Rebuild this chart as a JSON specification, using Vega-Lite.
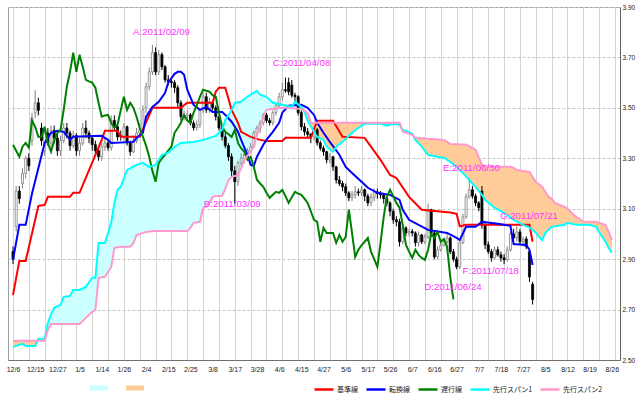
{
"$schema":"https://vega.github.io/schema/vega-lite/v6.json",
"width":612,"height":353,
"autosize":{"type":"none"},
"padding":{"left":8,"top":7,"right":24,"bottom":39},
"background":"#ffffff",
"config":{
 "view":{"stroke":"#a0a0a0","strokeWidth":1},
 "axis":{"labelFont":"Liberation Sans","labelColor":"#222222","ticks":false,"domainColor":"#707070"},
 "legend":{"orient":"none","direction":"horizontal","title":null,"padding":0,"labelFont":"Noto Sans CJK JP","labelFontSize":7,"labelColor":"#222222"}
},
"datasets":{
 "cloud":[
{"i":0,"s1":2.552,"s2":2.576},{"i":3,"s1":2.564,"s2":2.576},{"i":4,"s1":2.556,"s2":2.576},{"i":7,"s1":2.556,"s2":2.576},{"i":8,"s1":2.584,"s2":2.576},{"i":10,"s1":2.584,"s2":2.576},{"i":11,"s1":2.647,"s2":2.619},{"i":12,"s1":2.68,"s2":2.643},{"i":13,"s1":2.707,"s2":2.643},{"i":15,"s1":2.719,"s2":2.643},{"i":16,"s1":2.75,"s2":2.643},{"i":18,"s1":2.754,"s2":2.643},{"i":19,"s1":2.778,"s2":2.643},{"i":21,"s1":2.778,"s2":2.643},{"i":23,"s1":2.79,"s2":2.667},{"i":25,"s1":2.826,"s2":2.691},{"i":26,"s1":2.826,"s2":2.699},{"i":27,"s1":2.964,"s2":2.826},{"i":29,"s1":2.964,"s2":2.83},{"i":31,"s1":3.044,"s2":2.869},{"i":32,"s1":3.123,"s2":2.945},{"i":33,"s1":3.175,"s2":2.947},{"i":34,"s1":3.187,"s2":2.949},{"i":36,"s1":3.254,"s2":2.949},{"i":37,"s1":3.26,"s2":2.949},{"i":38,"s1":3.268,"s2":2.964},{"i":39,"s1":3.274,"s2":2.996},{"i":41,"s1":3.282,"s2":3.004},{"i":42,"s1":3.274,"s2":3.008},{"i":43,"s1":3.266,"s2":3.01},{"i":45,"s1":3.274,"s2":3.012},{"i":47,"s1":3.314,"s2":3.012},{"i":49,"s1":3.322,"s2":3.012},{"i":51,"s1":3.346,"s2":3.012},{"i":53,"s1":3.361,"s2":3.012},{"i":55,"s1":3.363,"s2":3.012},{"i":56,"s1":3.364,"s2":3.024},{"i":57,"s1":3.365,"s2":3.044},{"i":59,"s1":3.37,"s2":3.048},{"i":60,"s1":3.373,"s2":3.104},{"i":61,"s1":3.377,"s2":3.108},{"i":62,"s1":3.381,"s2":3.123},{"i":63,"s1":3.385,"s2":3.147},{"i":64,"s1":3.389,"s2":3.15},{"i":65,"s1":3.401,"s2":3.15},{"i":66,"s1":3.413,"s2":3.151},{"i":67,"s1":3.453,"s2":3.18},{"i":68,"s1":3.47,"s2":3.214},{"i":69,"s1":3.492,"s2":3.226},{"i":70,"s1":3.52,"s2":3.23},{"i":71,"s1":3.522,"s2":3.234},{"i":72,"s1":3.524,"s2":3.26},{"i":73,"s1":3.535,"s2":3.294},{"i":74,"s1":3.544,"s2":3.31},{"i":75,"s1":3.553,"s2":3.326},{"i":76,"s1":3.56,"s2":3.346},{"i":77,"s1":3.568,"s2":3.393},{"i":78,"s1":3.552,"s2":3.43},{"i":79,"s1":3.548,"s2":3.461},{"i":80,"s1":3.544,"s2":3.492},{"i":82,"s1":3.52,"s2":3.496},{"i":85,"s1":3.512,"s2":3.5},{"i":86,"s1":3.51,"s2":3.5},{"i":88,"s1":3.504,"s2":3.498},{"i":89,"s1":3.524,"s2":3.497},{"i":91,"s1":3.504,"s2":3.496},{"i":92,"s1":3.484,"s2":3.488},{"i":93,"s1":3.449,"s2":3.48},{"i":94,"s1":3.427,"s2":3.441},{"i":95,"s1":3.405,"s2":3.441},{"i":96,"s1":3.385,"s2":3.441},{"i":98,"s1":3.373,"s2":3.441},{"i":99,"s1":3.346,"s2":3.441},{"i":101,"s1":3.326,"s2":3.441},{"i":102,"s1":3.346,"s2":3.441},{"i":104,"s1":3.365,"s2":3.441},{"i":105,"s1":3.377,"s2":3.441},{"i":107,"s1":3.401,"s2":3.441},{"i":109,"s1":3.421,"s2":3.441},{"i":111,"s1":3.437,"s2":3.441},{"i":116,"s1":3.437,"s2":3.441},{"i":118,"s1":3.429,"s2":3.441},{"i":120,"s1":3.437,"s2":3.441},{"i":122,"s1":3.433,"s2":3.441},{"i":123,"s1":3.413,"s2":3.405},{"i":126,"s1":3.397,"s2":3.393},{"i":127,"s1":3.373,"s2":3.381},{"i":129,"s1":3.346,"s2":3.379},{"i":131,"s1":3.314,"s2":3.377},{"i":134,"s1":3.306,"s2":3.375},{"i":136,"s1":3.302,"s2":3.373},{"i":138,"s1":3.286,"s2":3.357},{"i":140,"s1":3.266,"s2":3.356},{"i":142,"s1":3.242,"s2":3.355},{"i":143,"s1":3.228,"s2":3.354},{"i":144,"s1":3.214,"s2":3.348},{"i":146,"s1":3.187,"s2":3.334},{"i":148,"s1":3.155,"s2":3.274},{"i":149,"s1":3.135,"s2":3.27},{"i":150,"s1":3.125,"s2":3.266},{"i":152,"s1":3.104,"s2":3.266},{"i":155,"s1":3.084,"s2":3.266},{"i":157,"s1":3.065,"s2":3.266},{"i":158,"s1":3.056,"s2":3.262},{"i":159,"s1":3.05,"s2":3.254},{"i":161,"s1":3.036,"s2":3.25},{"i":163,"s1":3.025,"s2":3.246},{"i":164,"s1":3.016,"s2":3.226},{"i":165,"s1":3.005,"s2":3.206},{"i":166,"s1":2.988,"s2":3.197},{"i":167,"s1":2.976,"s2":3.187},{"i":168,"s1":3.004,"s2":3.167},{"i":169,"s1":3.016,"s2":3.147},{"i":170,"s1":3.028,"s2":3.14},{"i":171,"s1":3.03,"s2":3.123},{"i":174,"s1":3.036,"s2":3.108},{"i":175,"s1":3.044,"s2":3.1},{"i":177,"s1":3.038,"s2":3.076},{"i":178,"s1":3.036,"s2":3.066},{"i":180,"s1":3.036,"s2":3.048},{"i":182,"s1":3.036,"s2":3.048},{"i":184,"s1":3.028,"s2":3.048},{"i":186,"s1":2.988,"s2":3.04},{"i":187,"s1":2.97,"s2":3.036},{"i":188,"s1":2.945,"s2":3.008},{"i":189,"s1":2.925,"s2":2.976}
 ],
 "kijun":[
{"i":0,"v":2.758},{"i":2,"v":2.893},{"i":4,"v":2.893},{"i":8,"v":3.111},{"i":10,"v":3.115},{"i":11,"v":3.147},{"i":18,"v":3.147},{"i":19,"v":3.163},{"i":21,"v":3.163},{"i":28,"v":3.373},{"i":29,"v":3.409},{"i":33,"v":3.409},{"i":34,"v":3.385},{"i":40,"v":3.385},{"i":44,"v":3.5},{"i":53,"v":3.5},{"i":55,"v":3.52},{"i":63,"v":3.52},{"i":64,"v":3.564},{"i":65,"v":3.58},{"i":67,"v":3.58},{"i":69,"v":3.492},{"i":71,"v":3.441},{"i":72,"v":3.405},{"i":75,"v":3.385},{"i":78,"v":3.373},{"i":80,"v":3.369},{"i":85,"v":3.369},{"i":86,"v":3.381},{"i":94,"v":3.381},{"i":96,"v":3.449},{"i":101,"v":3.449},{"i":104,"v":3.385},{"i":111,"v":3.381},{"i":116,"v":3.294},{"i":119,"v":3.234},{"i":121,"v":3.222},{"i":125,"v":3.147},{"i":129,"v":3.096},{"i":138,"v":3.085},{"i":140,"v":3.08},{"i":141,"v":3.03},{"i":143,"v":3.036},{"i":163,"v":3.036},{"i":164,"v":2.969}
 ],
 "tenkan":[
{"i":0,"v":2.897},{"i":2,"v":3.036},{"i":4,"v":3.036},{"i":6,"v":3.16},{"i":10,"v":3.361},{"i":12,"v":3.401},{"i":14,"v":3.409},{"i":16,"v":3.405},{"i":18,"v":3.373},{"i":19,"v":3.385},{"i":28,"v":3.389},{"i":30,"v":3.373},{"i":31,"v":3.361},{"i":38,"v":3.365},{"i":39,"v":3.381},{"i":41,"v":3.401},{"i":42,"v":3.465},{"i":44,"v":3.504},{"i":46,"v":3.524},{"i":48,"v":3.56},{"i":49,"v":3.6},{"i":51,"v":3.635},{"i":52,"v":3.643},{"i":53,"v":3.643},{"i":54,"v":3.631},{"i":55,"v":3.572},{"i":57,"v":3.512},{"i":59,"v":3.492},{"i":61,"v":3.504},{"i":63,"v":3.484},{"i":66,"v":3.484},{"i":67,"v":3.472},{"i":69,"v":3.445},{"i":71,"v":3.405},{"i":72,"v":3.373},{"i":74,"v":3.314},{"i":75,"v":3.274},{"i":76,"v":3.27},{"i":77,"v":3.306},{"i":79,"v":3.354},{"i":80,"v":3.373},{"i":82,"v":3.405},{"i":84,"v":3.441},{"i":85,"v":3.481},{"i":87,"v":3.508},{"i":91,"v":3.512},{"i":93,"v":3.5},{"i":95,"v":3.472},{"i":96,"v":3.441},{"i":98,"v":3.401},{"i":100,"v":3.365},{"i":103,"v":3.314},{"i":105,"v":3.266},{"i":107,"v":3.242},{"i":110,"v":3.207},{"i":112,"v":3.183},{"i":115,"v":3.163},{"i":119,"v":3.155},{"i":122,"v":3.135},{"i":123,"v":3.096},{"i":125,"v":3.056},{"i":128,"v":3.036},{"i":131,"v":3.016},{"i":137,"v":3.004},{"i":140,"v":2.984},{"i":141,"v":2.976},{"i":143,"v":3.028},{"i":146,"v":3.028},{"i":148,"v":3.048},{"i":153,"v":3.04},{"i":157,"v":3.032},{"i":158,"v":2.96},{"i":162,"v":2.956},{"i":163,"v":2.937},{"i":164,"v":2.877}
 ],
 "chikou":[
{"i":0,"v":3.354},{"i":1,"v":3.33},{"i":2,"v":3.306},{"i":3,"v":3.346},{"i":4,"v":3.361},{"i":5,"v":3.342},{"i":6,"v":3.45},{"i":7,"v":3.425},{"i":8,"v":3.385},{"i":9,"v":3.385},{"i":10,"v":3.425},{"i":11,"v":3.361},{"i":12,"v":3.326},{"i":13,"v":3.37},{"i":14,"v":3.4},{"i":15,"v":3.413},{"i":16,"v":3.492},{"i":17,"v":3.584},{"i":18,"v":3.643},{"i":19,"v":3.719},{"i":20,"v":3.643},{"i":21,"v":3.711},{"i":22,"v":3.663},{"i":23,"v":3.611},{"i":24,"v":3.605},{"i":25,"v":3.6},{"i":26,"v":3.58},{"i":27,"v":3.52},{"i":28,"v":3.465},{"i":29,"v":3.47},{"i":30,"v":3.472},{"i":31,"v":3.44},{"i":32,"v":3.421},{"i":33,"v":3.433},{"i":34,"v":3.49},{"i":35,"v":3.544},{"i":36,"v":3.492},{"i":37,"v":3.52},{"i":38,"v":3.5},{"i":39,"v":3.465},{"i":40,"v":3.42},{"i":41,"v":3.385},{"i":42,"v":3.35},{"i":43,"v":3.306},{"i":44,"v":3.25},{"i":45,"v":3.207},{"i":46,"v":3.282},{"i":47,"v":3.3},{"i":48,"v":3.314},{"i":49,"v":3.33},{"i":50,"v":3.346},{"i":51,"v":3.401},{"i":52,"v":3.42},{"i":53,"v":3.441},{"i":54,"v":3.472},{"i":55,"v":3.45},{"i":56,"v":3.441},{"i":57,"v":3.481},{"i":58,"v":3.51},{"i":59,"v":3.544},{"i":60,"v":3.572},{"i":61,"v":3.568},{"i":62,"v":3.564},{"i":63,"v":3.55},{"i":64,"v":3.544},{"i":65,"v":3.481},{"i":66,"v":3.425},{"i":67,"v":3.405},{"i":68,"v":3.395},{"i":69,"v":3.385},{"i":70,"v":3.413},{"i":71,"v":3.361},{"i":72,"v":3.34},{"i":73,"v":3.326},{"i":74,"v":3.294},{"i":75,"v":3.306},{"i":76,"v":3.266},{"i":77,"v":3.214},{"i":78,"v":3.2},{"i":79,"v":3.187},{"i":80,"v":3.163},{"i":81,"v":3.143},{"i":82,"v":3.155},{"i":83,"v":3.167},{"i":84,"v":3.163},{"i":85,"v":3.175},{"i":86,"v":3.15},{"i":87,"v":3.123},{"i":88,"v":3.145},{"i":89,"v":3.167},{"i":90,"v":3.16},{"i":91,"v":3.155},{"i":92,"v":3.14},{"i":93,"v":3.123},{"i":94,"v":3.09},{"i":95,"v":3.056},{"i":96,"v":3.048},{"i":97,"v":2.969},{"i":98,"v":3.024},{"i":99,"v":3.004},{"i":100,"v":3.004},{"i":101,"v":3.004},{"i":102,"v":2.965},{"i":103,"v":2.996},{"i":104,"v":2.969},{"i":105,"v":2.988},{"i":106,"v":3.096},{"i":107,"v":3.004},{"i":108,"v":2.909},{"i":109,"v":2.937},{"i":110,"v":2.955},{"i":111,"v":2.969},{"i":112,"v":2.984},{"i":113,"v":2.929},{"i":114,"v":2.9},{"i":115,"v":2.869},{"i":116,"v":2.965},{"i":117,"v":3.068},{"i":118,"v":3.147},{"i":119,"v":3.175},{"i":120,"v":3.15},{"i":121,"v":3.123},{"i":122,"v":3.104},{"i":123,"v":3.036},{"i":124,"v":2.957},{"i":125,"v":2.93},{"i":126,"v":2.905},{"i":127,"v":2.937},{"i":128,"v":2.917},{"i":129,"v":2.905},{"i":130,"v":2.897},{"i":131,"v":2.937},{"i":132,"v":3.0},{"i":133,"v":2.984},{"i":134,"v":3.008},{"i":135,"v":2.969},{"i":136,"v":2.98},{"i":137,"v":2.949},{"i":138,"v":2.83},{"i":139,"v":2.74}
 ],
 "candles":[
{"i":0,"o":2.93,"h":2.95,"l":2.88,"c":2.9},{"i":1,"o":3.03,"h":3.19,"l":3.01,"c":3.17},{"i":2,"o":3.17,"h":3.19,"l":3.12,"c":3.14},{"i":3,"o":3.2,"h":3.26,"l":3.18,"c":3.24},{"i":4,"o":3.24,"h":3.31,"l":3.22,"c":3.3},{"i":5,"o":3.3,"h":3.32,"l":3.25,"c":3.27},{"i":6,"o":3.37,"h":3.48,"l":3.35,"c":3.46},{"i":7,"o":3.48,"h":3.57,"l":3.46,"c":3.52},{"i":8,"o":3.52,"h":3.54,"l":3.47,"c":3.49},{"i":9,"o":3.42,"h":3.44,"l":3.35,"c":3.37},{"i":10,"o":3.33,"h":3.42,"l":3.31,"c":3.4},{"i":11,"o":3.4,"h":3.42,"l":3.35,"c":3.36},{"i":12,"o":3.36,"h":3.43,"l":3.34,"c":3.41},{"i":13,"o":3.41,"h":3.43,"l":3.36,"c":3.38},{"i":14,"o":3.38,"h":3.4,"l":3.31,"c":3.33},{"i":15,"o":3.33,"h":3.39,"l":3.31,"c":3.37},{"i":16,"o":3.37,"h":3.44,"l":3.36,"c":3.42},{"i":17,"o":3.42,"h":3.44,"l":3.38,"c":3.4},{"i":18,"o":3.4,"h":3.41,"l":3.33,"c":3.35},{"i":19,"o":3.35,"h":3.41,"l":3.34,"c":3.39},{"i":20,"o":3.39,"h":3.4,"l":3.31,"c":3.33},{"i":21,"o":3.33,"h":3.38,"l":3.31,"c":3.36},{"i":22,"o":3.36,"h":3.44,"l":3.35,"c":3.42},{"i":23,"o":3.42,"h":3.45,"l":3.38,"c":3.4},{"i":24,"o":3.4,"h":3.41,"l":3.36,"c":3.38},
{"i":25,"o":3.38,"h":3.39,"l":3.33,"c":3.354},{"i":26,"o":3.354,"h":3.37,"l":3.31,"c":3.33},{"i":27,"o":3.33,"h":3.34,"l":3.29,"c":3.306},{"i":28,"o":3.306,"h":3.36,"l":3.29,"c":3.346},{"i":29,"o":3.346,"h":3.38,"l":3.33,"c":3.361},{"i":30,"o":3.361,"h":3.37,"l":3.33,"c":3.342},{"i":31,"o":3.342,"h":3.47,"l":3.33,"c":3.45},{"i":32,"o":3.45,"h":3.47,"l":3.41,"c":3.425},{"i":33,"o":3.425,"h":3.44,"l":3.37,"c":3.385},{"i":34,"o":3.39,"h":3.41,"l":3.37,"c":3.385},{"i":35,"o":3.385,"h":3.44,"l":3.37,"c":3.425},{"i":36,"o":3.425,"h":3.43,"l":3.35,"c":3.361},{"i":37,"o":3.361,"h":3.37,"l":3.31,"c":3.326},{"i":38,"o":3.326,"h":3.39,"l":3.32,"c":3.37},{"i":39,"o":3.37,"h":3.42,"l":3.36,"c":3.4},{"i":40,"o":3.4,"h":3.44,"l":3.39,"c":3.413},{"i":41,"o":3.413,"h":3.51,"l":3.4,"c":3.492},{"i":42,"o":3.5,"h":3.6,"l":3.48,"c":3.584},{"i":43,"o":3.584,"h":3.66,"l":3.57,"c":3.643},{"i":44,"o":3.643,"h":3.75,"l":3.63,"c":3.719},{"i":45,"o":3.719,"h":3.74,"l":3.63,"c":3.643},{"i":46,"o":3.643,"h":3.73,"l":3.63,"c":3.711},{"i":47,"o":3.711,"h":3.72,"l":3.65,"c":3.663},{"i":48,"o":3.663,"h":3.67,"l":3.6,"c":3.611},{"i":49,"o":3.611,"h":3.63,"l":3.59,"c":3.605},{"i":50,"o":3.605,"h":3.62,"l":3.58,"c":3.6},{"i":51,"o":3.6,"h":3.61,"l":3.56,"c":3.58},{"i":52,"o":3.58,"h":3.59,"l":3.5,"c":3.52},{"i":53,"o":3.52,"h":3.53,"l":3.45,"c":3.465},{"i":54,"o":3.465,"h":3.49,"l":3.45,"c":3.47},{"i":55,"o":3.47,"h":3.49,"l":3.45,"c":3.472},{"i":56,"o":3.472,"h":3.48,"l":3.43,"c":3.44},{"i":57,"o":3.44,"h":3.45,"l":3.41,"c":3.421},{"i":58,"o":3.421,"h":3.45,"l":3.41,"c":3.433},{"i":59,"o":3.433,"h":3.5,"l":3.42,"c":3.49},{"i":60,"o":3.49,"h":3.56,"l":3.48,"c":3.544},{"i":61,"o":3.544,"h":3.56,"l":3.48,"c":3.492},{"i":62,"o":3.492,"h":3.54,"l":3.48,"c":3.52},{"i":63,"o":3.52,"h":3.53,"l":3.49,"c":3.5},{"i":64,"o":3.5,"h":3.51,"l":3.45,"c":3.465},{"i":65,"o":3.465,"h":3.47,"l":3.41,"c":3.42},{"i":66,"o":3.42,"h":3.43,"l":3.37,"c":3.385},{"i":67,"o":3.385,"h":3.4,"l":3.34,"c":3.35},{"i":68,"o":3.35,"h":3.36,"l":3.29,"c":3.306},{"i":69,"o":3.306,"h":3.32,"l":3.23,"c":3.25},{"i":70,"o":3.25,"h":3.27,"l":3.12,"c":3.207},{"i":71,"o":3.207,"h":3.29,"l":3.19,"c":3.282},{"i":72,"o":3.282,"h":3.32,"l":3.27,"c":3.3},{"i":73,"o":3.3,"h":3.33,"l":3.28,"c":3.314},{"i":74,"o":3.314,"h":3.34,"l":3.3,"c":3.33},{"i":75,"o":3.33,"h":3.36,"l":3.32,"c":3.346},{"i":76,"o":3.346,"h":3.41,"l":3.34,"c":3.401},{"i":77,"o":3.401,"h":3.43,"l":3.39,"c":3.42},{"i":78,"o":3.42,"h":3.45,"l":3.4,"c":3.441},{"i":79,"o":3.441,"h":3.48,"l":3.43,"c":3.472},{"i":80,"o":3.472,"h":3.48,"l":3.44,"c":3.45},{"i":81,"o":3.45,"h":3.46,"l":3.43,"c":3.441},{"i":82,"o":3.441,"h":3.49,"l":3.43,"c":3.481},{"i":83,"o":3.481,"h":3.52,"l":3.47,"c":3.51},{"i":84,"o":3.51,"h":3.56,"l":3.5,"c":3.544},{"i":85,"o":3.544,"h":3.6,"l":3.53,"c":3.572},{"i":86,"o":3.572,"h":3.62,"l":3.56,"c":3.568},{"i":87,"o":3.6,"h":3.62,"l":3.55,"c":3.564},{"i":88,"o":3.59,"h":3.61,"l":3.54,"c":3.55},{"i":89,"o":3.55,"h":3.56,"l":3.52,"c":3.544},{"i":90,"o":3.544,"h":3.55,"l":3.47,"c":3.481},{"i":91,"o":3.481,"h":3.49,"l":3.41,"c":3.425},{"i":92,"o":3.425,"h":3.44,"l":3.39,"c":3.405},{"i":93,"o":3.405,"h":3.42,"l":3.38,"c":3.395},{"i":94,"o":3.395,"h":3.4,"l":3.36,"c":3.385},{"i":95,"o":3.385,"h":3.42,"l":3.37,"c":3.413},{"i":96,"o":3.413,"h":3.42,"l":3.35,"c":3.361},{"i":97,"o":3.361,"h":3.37,"l":3.33,"c":3.34},{"i":98,"o":3.34,"h":3.35,"l":3.31,"c":3.326},{"i":99,"o":3.326,"h":3.33,"l":3.28,"c":3.294},{"i":100,"o":3.294,"h":3.32,"l":3.28,"c":3.306},{"i":101,"o":3.306,"h":3.31,"l":3.25,"c":3.266},{"i":102,"o":3.266,"h":3.27,"l":3.2,"c":3.214},{"i":103,"o":3.214,"h":3.23,"l":3.19,"c":3.2},{"i":104,"o":3.2,"h":3.21,"l":3.17,"c":3.187},{"i":105,"o":3.187,"h":3.2,"l":3.15,"c":3.163},{"i":106,"o":3.163,"h":3.17,"l":3.13,"c":3.143},{"i":107,"o":3.143,"h":3.17,"l":3.13,"c":3.155},{"i":108,"o":3.155,"h":3.19,"l":3.14,"c":3.167},{"i":109,"o":3.167,"h":3.18,"l":3.15,"c":3.163},{"i":110,"o":3.163,"h":3.19,"l":3.15,"c":3.175},{"i":111,"o":3.175,"h":3.18,"l":3.13,"c":3.15},{"i":112,"o":3.15,"h":3.16,"l":3.11,"c":3.123},{"i":113,"o":3.123,"h":3.16,"l":3.11,"c":3.145},{"i":114,"o":3.145,"h":3.18,"l":3.13,"c":3.167},{"i":115,"o":3.167,"h":3.18,"l":3.14,"c":3.16},{"i":116,"o":3.16,"h":3.17,"l":3.14,"c":3.155},{"i":117,"o":3.155,"h":3.16,"l":3.12,"c":3.14},{"i":118,"o":3.14,"h":3.15,"l":3.11,"c":3.123},{"i":119,"o":3.123,"h":3.13,"l":3.07,"c":3.09},{"i":120,"o":3.09,"h":3.1,"l":3.04,"c":3.056},{"i":121,"o":3.056,"h":3.07,"l":3.03,"c":3.048},{"i":122,"o":3.048,"h":3.06,"l":2.95,"c":2.969},{"i":123,"o":2.969,"h":3.04,"l":2.96,"c":3.024},{"i":124,"o":3.024,"h":3.03,"l":2.99,"c":3.004},{"i":125,"o":3.004,"h":3.02,"l":2.99,"c":3.01},{"i":126,"o":3.01,"h":3.02,"l":2.99,"c":3.004},{"i":127,"o":3.004,"h":3.01,"l":2.95,"c":2.965},{"i":128,"o":2.965,"h":3.01,"l":2.95,"c":2.996},{"i":129,"o":2.996,"h":3.0,"l":2.96,"c":2.969},{"i":130,"o":2.969,"h":3.0,"l":2.96,"c":2.988},{"i":131,"o":2.988,"h":3.12,"l":2.98,"c":3.096},{"i":132,"o":3.096,"h":3.1,"l":2.99,"c":3.004},{"i":133,"o":3.004,"h":3.01,"l":2.9,"c":2.909},{"i":134,"o":2.909,"h":2.95,"l":2.9,"c":2.937},{"i":135,"o":2.937,"h":2.97,"l":2.93,"c":2.955},{"i":136,"o":2.955,"h":2.98,"l":2.95,"c":2.969},{"i":137,"o":2.969,"h":3.0,"l":2.96,"c":2.984},{"i":138,"o":2.984,"h":2.99,"l":2.92,"c":2.929},{"i":139,"o":2.929,"h":2.94,"l":2.89,"c":2.9},{"i":140,"o":2.9,"h":2.91,"l":2.86,"c":2.869},{"i":141,"o":2.869,"h":2.97,"l":2.86,"c":2.965},{"i":142,"o":2.965,"h":3.08,"l":2.96,"c":3.068},{"i":143,"o":3.068,"h":3.16,"l":3.06,"c":3.147},{"i":144,"o":3.147,"h":3.22,"l":3.14,"c":3.175},{"i":145,"o":3.175,"h":3.19,"l":3.14,"c":3.15},{"i":146,"o":3.15,"h":3.16,"l":3.11,"c":3.123},{"i":147,"o":3.123,"h":3.13,"l":3.09,"c":3.104},{"i":148,"o":3.17,"h":3.19,"l":3.02,"c":3.036},{"i":149,"o":3.036,"h":3.05,"l":2.94,"c":2.957},{"i":150,"o":2.957,"h":2.97,"l":2.92,"c":2.93},{"i":151,"o":2.93,"h":2.94,"l":2.89,"c":2.905},{"i":152,"o":2.905,"h":2.95,"l":2.9,"c":2.937},{"i":153,"o":2.937,"h":2.95,"l":2.91,"c":2.917},{"i":154,"o":2.917,"h":2.93,"l":2.89,"c":2.905},{"i":155,"o":2.905,"h":2.92,"l":2.88,"c":2.897},{"i":156,"o":2.897,"h":2.95,"l":2.89,"c":2.937},{"i":157,"o":2.937,"h":3.01,"l":2.93,"c":3.0},{"i":158,"o":3.0,"h":3.02,"l":2.97,"c":2.984},{"i":159,"o":2.984,"h":3.03,"l":2.97,"c":3.008},{"i":160,"o":3.008,"h":3.02,"l":2.96,"c":2.969},{"i":161,"o":2.969,"h":2.99,"l":2.95,"c":2.98},{"i":162,"o":2.98,"h":2.99,"l":2.94,"c":2.949},{"i":163,"o":2.93,"h":2.94,"l":2.81,"c":2.83},{"i":164,"o":2.8,"h":2.81,"l":2.72,"c":2.74}
 ],
 "notes":[
{"i":37.9,"v":3.8,"t":"A:2011/02/09"},{"i":82,"v":3.676,"t":"C:2011/04/08"},{"i":60.2,"v":3.117,"t":"B:2011/03/09"},{"i":129.8,"v":2.788,"t":"D:2011/06/24"},{"i":135.7,"v":3.262,"t":"E:2011/06/30"},{"i":141.9,"v":2.854,"t":"F:2011/07/18"},{"i":153.7,"v":3.072,"t":"G:2011/07/21"}
 ]
},
"encoding":{
 "x":{"field":"i","type":"quantitative","scale":{"domain":[0,190],"nice":false,"zero":false},
  "axis":{"title":null,"tickCount":190,"labelFontSize":7,"labelPadding":5,"labelOverlap":false,"labelFlush":false,"grid":true,"gridColor":"#d4d4d4","gridWidth":1,
   "gridOpacity":{"condition":{"test":"datum.value % 5 === 0","value":1},"value":0},
   "labelExpr":"datum.value % 7 === 0 ? ['12/6','12/15','12/27','1/5','1/14','1/26','2/4','2/15','2/25','3/8','3/17','3/28','4/6','4/15','4/27','5/6','5/17','5/26','6/7','6/16','6/27','7/7','7/18','7/27','8/5','8/12','8/19','8/26'][datum.value / 7] : ''"}}
},
"layer":[
 {"data":{"name":"cloud"},"transform":[{"calculate":"min(datum.s1, datum.s2)","as":"lo"}],
  "mark":{"type":"area"},
  "encoding":{
   "y":{"field":"s1","type":"quantitative","scale":{"domain":[2.5,3.9],"nice":false,"zero":false},
     "axis":{"title":null,"orient":"right","values":[2.5,2.7,2.9,3.1,3.3,3.5,3.7,3.9],"format":".2f","labelFontSize":6.5,"labelPadding":2,"grid":true,"gridDash":[3,2],"gridColor":"#c4c4c4","domainColor":"#606060"}},
   "y2":{"field":"lo"},
   "fill":{"datum":"k1","scale":{"domain":["k1","k2"],"range":["#ccffff","#ffcc99"]},
     "legend":{"legendX":82,"legendY":372,"symbolType":"M-1,-0.28H1V0.28H-1Z","symbolSize":324,"labelExpr":"''","labelOffset":0,"columnPadding":18,"symbolStrokeWidth":0}}
  }},
 {"data":{"name":"cloud"},"transform":[{"calculate":"min(datum.s1, datum.s2)","as":"lo"}],
  "mark":{"type":"area"},
  "encoding":{
   "y":{"field":"s2","type":"quantitative"},
   "y2":{"field":"lo"},
   "fill":{"datum":"k2"}
  }},
 {"data":{"name":"candles"},
  "mark":{"type":"rule","strokeWidth":1},
  "encoding":{
   "y":{"field":"l","type":"quantitative"},
   "y2":{"field":"h"},
   "stroke":{"condition":{"test":"datum.c >= datum.o","value":"#808080"},"value":"#000000"}
  }},
 {"data":{"name":"candles"},
  "mark":{"type":"bar","orient":"vertical","width":2,"strokeWidth":0.8},
  "encoding":{
   "y":{"field":"o","type":"quantitative"},
   "y2":{"field":"c"},
   "fill":{"condition":{"test":"datum.c >= datum.o","value":"#ffffff"},"value":"#000000"},
   "stroke":{"condition":{"test":"datum.c >= datum.o","value":"#808080"},"value":"#000000"}
  }},
 {"data":{"name":"kijun"},"mark":{"type":"line","strokeWidth":2},
  "encoding":{"y":{"field":"v","type":"quantitative"},
   "stroke":{"datum":"基準線","scale":{"domain":["基準線","転換線","遅行線","先行スパン1","先行スパン2"],"range":["#ff0000","#0000ff","#008000","#00ffff","#ff99cc"]},
    "legend":{"legendX":305,"legendY":371.5,"symbolType":"stroke","symbolSize":361,"symbolStrokeWidth":2.5,"labelOffset":2,"columnPadding":3}}}},
 {"data":{"name":"tenkan"},"mark":{"type":"line","strokeWidth":2},
  "encoding":{"y":{"field":"v","type":"quantitative"},"stroke":{"datum":"転換線"}}},
 {"data":{"name":"chikou"},"mark":{"type":"line","strokeWidth":2},
  "encoding":{"y":{"field":"v","type":"quantitative"},"stroke":{"datum":"遅行線"}}},
 {"data":{"name":"cloud"},"mark":{"type":"line","strokeWidth":2},
  "encoding":{"y":{"field":"s1","type":"quantitative"},"stroke":{"datum":"先行スパン1"}}},
 {"data":{"name":"cloud"},"mark":{"type":"line","strokeWidth":2},
  "encoding":{"y":{"field":"s2","type":"quantitative"},"stroke":{"datum":"先行スパン2"}}},
 {"data":{"name":"notes"},"mark":{"type":"text","align":"left","baseline":"middle","font":"Liberation Sans","fontSize":9.7,"color":"#ff33ff"},
  "encoding":{"y":{"field":"v","type":"quantitative"},"text":{"field":"t"}}}
]
}
